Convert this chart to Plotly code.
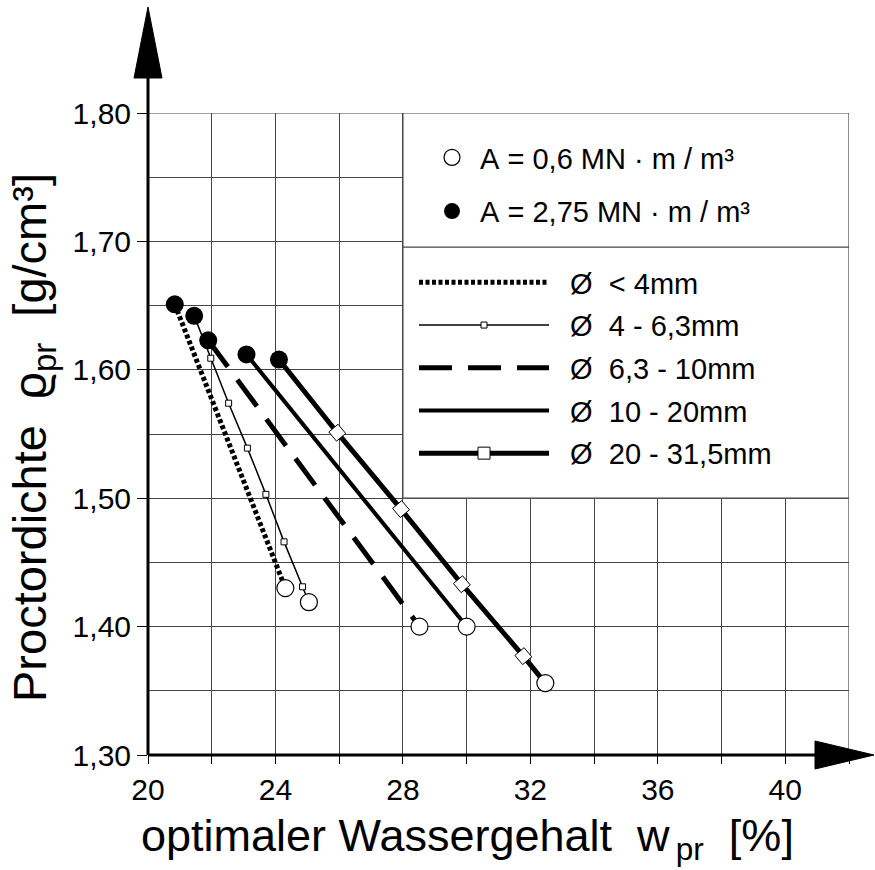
import plotly.graph_objects as go

# ---------------- data ----------------
# each grain-size series: first point = A 2,75 (filled), last point = A 0,6 (open)
s1_x = [20.84, 24.31]
s1_y = [1.651, 1.430]
s2_x = [21.45, 21.97, 22.53, 23.12, 23.70, 24.27, 24.85, 25.05]
s2_y = [1.642, 1.609, 1.574, 1.539, 1.503, 1.466, 1.431, 1.419]
s3_x = [21.89, 28.52]
s3_y = [1.623, 1.400]
s4_x = [23.09, 30.00]
s4_y = [1.612, 1.400]
s5_x = [24.11, 25.94, 27.94, 29.85, 31.78, 32.47]
s5_y = [1.608, 1.551, 1.4915, 1.433, 1.377, 1.356]

series_names = ["Ø  < 4mm", "Ø  4 - 6,3mm", "Ø  6,3 - 10mm", "Ø  10 - 20mm", "Ø  20 - 31,5mm"]
energy_names = ["A = 0,6 MN · m / m³", "A = 2,75 MN · m / m³"]

x_ticks = [20, 24, 28, 32, 36, 40]
y_ticks = [1.30, 1.40, 1.50, 1.60, 1.70, 1.80]
y_ticktext = ["1,30", "1,40", "1,50", "1,60", "1,70", "1,80"]
x_title = "optimaler Wassergehalt\u00a0\u00a0w<sub>\u2009pr</sub>\u00a0\u00a0[%]"
y_title = "Proctordichte\u00a0\u00a0ϱ<sub>pr</sub>\u00a0\u00a0[g/cm³]"

FONT = "Liberation Sans, Arial, Helvetica, sans-serif"
NB = "\u00a0"

all_series = [(s1_x, s1_y), (s2_x, s2_y), (s3_x, s3_y), (s4_x, s4_y), (s5_x, s5_y)]
n5 = len(s5_x)
styles = [
    dict(line=dict(color="black", width=5, dash="4px,2.5px"), mode="lines", marker=None),
    dict(line=dict(color="black", width=1.5), mode="lines+markers",
         marker=dict(symbol="square", size=6, color="white", line=dict(color="black", width=1))),
    dict(line=dict(color="black", width=5, dash="33px,16px"), mode="lines", marker=None),
    dict(line=dict(color="black", width=4), mode="lines", marker=None),
    dict(line=dict(color="black", width=5), mode="lines+markers",
         marker=dict(symbol="square", size=12, color="white",
                     angle=[0] + [50] * (n5 - 2) + [0],
                     line=dict(color="black", width=1))),
]

fig = go.Figure()
for i, ((xs, ys), st, nm) in enumerate(zip(all_series, styles, series_names)):
    kw = dict(x=xs, y=ys, mode=st["mode"], line=st["line"], name=NB * 2 + nm.replace(" ", NB),
              legend="legend2", legendgroup="g%d" % i, showlegend=True)
    if st["marker"] is not None:
        kw["marker"] = st["marker"]
    fig.add_trace(go.Scatter(**kw))

open_x = [s[0][-1] for s in all_series]
open_y = [s[1][-1] for s in all_series]
fill_x = [s[0][0] for s in all_series]
fill_y = [s[1][0] for s in all_series]

fig.add_trace(go.Scatter(x=open_x, y=open_y, mode="markers", name=NB + energy_names[0].replace(" ", NB),
                         marker=dict(symbol="circle", size=17, color="white", line=dict(color="black", width=1.2)),
                         legend="legend", legendgroup="a0"))
fig.add_trace(go.Scatter(x=fill_x, y=fill_y, mode="markers", name=NB + energy_names[1].replace(" ", NB),
                         marker=dict(symbol="circle", size=18, color="black", line=dict(color="black", width=0)),
                         legend="legend", legendgroup="a1"))

W, H = 875, 870
L, R, T, B = 148, 26, 113, 115
pw, ph = W - L - R, H - T - B


def px(xp):
    return (xp - L) / pw


def py(yp):
    return (H - B - yp) / ph


grid_c = "#444444"
shapes = [
    # legend boxes (cover grid)
    dict(type="rect", xref="x", yref="y", x0=28, x1=42, y0=1.50, y1=1.80,
         fillcolor="white", line=dict(color=grid_c, width=1.2), layer="above"),
    dict(type="line", xref="x", yref="y", x0=28, x1=42, y0=1.6955, y1=1.6955,
         line=dict(color=grid_c, width=1.2), layer="above"),
    # outer border of grid
    dict(type="rect", xref="x", yref="y", x0=20, x1=42, y0=1.30, y1=1.80,
         line=dict(color=grid_c, width=1.2), layer="between"),
    # y axis with arrow
    dict(type="line", xref="paper", yref="paper", x0=0, x1=0, y0=0, y1=py(76),
         line=dict(color="black", width=3), layer="above"),
    dict(type="path", xref="paper", yref="paper",
         path="M %f %f L %f %f L %f %f Z" % (px(L - 14), py(78), px(L), py(7), px(L + 14), py(78)),
         fillcolor="black", line=dict(color="black", width=1), layer="above"),
    # x axis with arrow
    dict(type="line", xref="paper", yref="paper", x0=0, x1=px(817), y0=0, y1=0,
         line=dict(color="black", width=3), layer="above"),
    dict(type="path", xref="paper", yref="paper",
         path="M %f %f L %f %f L %f %f Z" % (px(815), py(H - B - 14), px(874), py(H - B), px(815), py(H - B + 14)),
         fillcolor="black", line=dict(color="black", width=1), layer="above"),
]

annotations = [
    dict(text=x_title, xref="paper", yref="paper", x=px(467), y=py(838), xanchor="center", yanchor="middle",
         showarrow=False, font=dict(family=FONT, size=45, color="black")),
    dict(text=y_title, xref="paper", yref="paper", x=px(33), y=py(438), xanchor="center", yanchor="middle",
         textangle=-90, showarrow=False, font=dict(family=FONT, size=47, color="black")),
]

fig.update_layout(
    width=W, height=H, margin=dict(l=L, r=R, t=T, b=B, pad=0),
    paper_bgcolor="white", plot_bgcolor="white",
    font=dict(family=FONT, color="black"),
    shapes=shapes, annotations=annotations,
    legend=dict(x=px(432), y=py(132), xanchor="left", yanchor="top", bgcolor="rgba(0,0,0,0)",
                borderwidth=0, font=dict(family=FONT, size=29, color="black"),
                tracegroupgap=13, itemwidth=30, traceorder="grouped"),
    legend2=dict(x=px(414), y=py(257), xanchor="left", yanchor="top", bgcolor="rgba(0,0,0,0)",
                 borderwidth=0, font=dict(family=FONT, size=29, color="black"),
                 tracegroupgap=2, itemwidth=130, traceorder="grouped"),
    xaxis=dict(range=[20, 42], tickmode="array", tickvals=x_ticks, ticktext=[str(v) for v in x_ticks],
               showgrid=True, gridcolor=grid_c, gridwidth=1, zeroline=False, showline=False,
               ticks="outside", ticklen=8, tickcolor="black", tickwidth=1,
               tickfont=dict(family=FONT, size=30, color="black"),
               minor=dict(tickmode="linear", tick0=20, dtick=2, showgrid=True, gridcolor=grid_c, gridwidth=1,
                          ticks="outside", ticklen=8, tickcolor="black")),
    yaxis=dict(range=[1.30, 1.80], tickmode="array", tickvals=y_ticks, ticktext=y_ticktext,
               showgrid=True, gridcolor=grid_c, gridwidth=1, zeroline=False, showline=False,
               ticks="outside", ticklen=10, tickcolor="black", tickwidth=1,
               tickfont=dict(family=FONT, size=30, color="black"),
               minor=dict(tickmode="linear", tick0=1.30, dtick=0.05, showgrid=True, gridcolor=grid_c, gridwidth=1)),
)

fig.write_html("out.html")
